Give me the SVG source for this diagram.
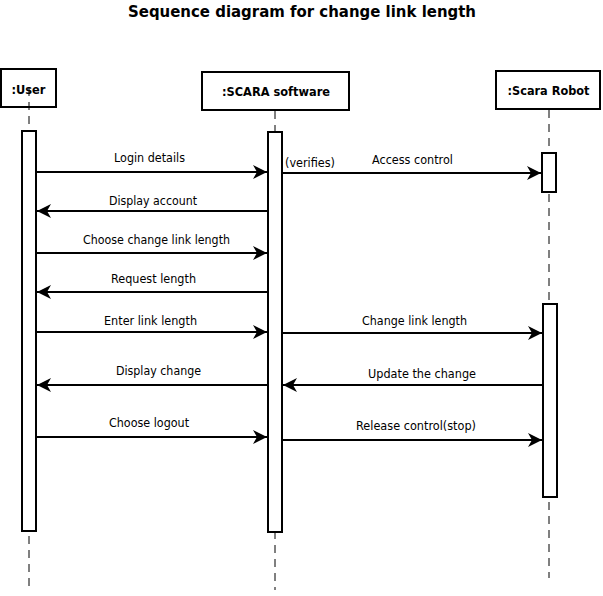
<svg xmlns="http://www.w3.org/2000/svg" width="603" height="596" viewBox="0 0 603 596">
<style>
.box{fill:#fff;stroke:#000;stroke-width:2}
.bar{fill:#fff;stroke:#000;stroke-width:2}
.life{stroke:#000;stroke-width:1;stroke-dasharray:8,6;fill:none}
.msg{stroke:#000;stroke-width:2;fill:none;marker-end:url(#ah)}
.lbl{font-family:"DejaVu Sans","Verdana",sans-serif;font-size:12px;fill:#000;text-anchor:middle}
.hdr{font-family:"DejaVu Sans","Verdana",sans-serif;font-size:12px;font-weight:bold;fill:#000;text-anchor:middle}
.title{font-family:"DejaVu Sans","Verdana",sans-serif;font-size:16px;font-weight:bold;fill:#000;text-anchor:middle}
</style>
<defs>
<marker id="ah" markerUnits="userSpaceOnUse" markerWidth="15" markerHeight="14" refX="14" refY="7" orient="auto">
<path d="M0,0 L14,7 L0,14 L4,7 Z" fill="#000"/>
</marker>
</defs>
<rect width="603" height="596" fill="#fff"/>
<text class="title" x="302" y="17" textLength="348" lengthAdjust="spacingAndGlyphs">Sequence diagram for change link length</text>

<g id="user">
<rect class="box" x="1" y="69" width="55" height="38"/>
<text class="hdr" x="28.5" y="94" textLength="34" lengthAdjust="spacingAndGlyphs">:User</text>
<line class="life" x1="29" y1="88" x2="29" y2="590"/>
<rect class="bar" x="22" y="131" width="14" height="400"/>
</g>
<g id="scara-software">
<rect class="box" x="202" y="72" width="147" height="38"/>
<text class="hdr" x="276" y="96" textLength="108" lengthAdjust="spacingAndGlyphs">:SCARA software</text>
<line class="life" x1="275" y1="111" x2="275" y2="590"/>
<rect class="bar" x="268" y="132" width="14" height="400"/>
</g>
<g id="scara-robot">
<rect class="box" x="496" y="71" width="104" height="38"/>
<text class="hdr" x="548.5" y="95" textLength="82" lengthAdjust="spacingAndGlyphs">:Scara Robot</text>
<line class="life" x1="549" y1="110" x2="549" y2="578"/>
<rect class="bar" x="542" y="153" width="14" height="39"/>
<rect class="bar" x="543" y="304" width="14" height="193"/>
</g>

<g id="connectors">
<line class="msg" x1="37" y1="172" x2="267" y2="172"/>
<text class="lbl" x="149.5" y="162" textLength="71" lengthAdjust="spacingAndGlyphs">Login details</text>
<text class="lbl" x="310" y="167" textLength="50" lengthAdjust="spacingAndGlyphs">(verifies)</text>
<line class="msg" x1="283" y1="173" x2="541" y2="173"/>
<text class="lbl" x="412.5" y="164" textLength="81" lengthAdjust="spacingAndGlyphs">Access control</text>

<line class="msg" x1="267" y1="211" x2="37" y2="211"/>
<text class="lbl" x="153" y="205" textLength="88" lengthAdjust="spacingAndGlyphs">Display account</text>

<line class="msg" x1="37" y1="253" x2="267" y2="253"/>
<text class="lbl" x="156.5" y="244" textLength="147" lengthAdjust="spacingAndGlyphs">Choose change link length</text>

<line class="msg" x1="267" y1="292" x2="37" y2="292"/>
<text class="lbl" x="153.5" y="283" textLength="85" lengthAdjust="spacingAndGlyphs">Request length</text>

<line class="msg" x1="37" y1="332" x2="267" y2="332"/>
<text class="lbl" x="150.5" y="325" textLength="93" lengthAdjust="spacingAndGlyphs">Enter link length</text>
<line class="msg" x1="283" y1="333" x2="542" y2="333"/>
<text class="lbl" x="414.5" y="325" textLength="105" lengthAdjust="spacingAndGlyphs">Change link length</text>

<line class="msg" x1="267" y1="385" x2="37" y2="385"/>
<text class="lbl" x="158.5" y="375" textLength="85" lengthAdjust="spacingAndGlyphs">Display change</text>
<line class="msg" x1="542" y1="385" x2="283" y2="385"/>
<text class="lbl" x="422" y="378" textLength="108" lengthAdjust="spacingAndGlyphs">Update the change</text>

<line class="msg" x1="37" y1="437" x2="267" y2="437"/>
<text class="lbl" x="149" y="427" textLength="80" lengthAdjust="spacingAndGlyphs">Choose logout</text>
<line class="msg" x1="283" y1="440" x2="542" y2="440"/>
<text class="lbl" x="416" y="430" textLength="120" lengthAdjust="spacingAndGlyphs">Release control(stop)</text>
</g>
</svg>
